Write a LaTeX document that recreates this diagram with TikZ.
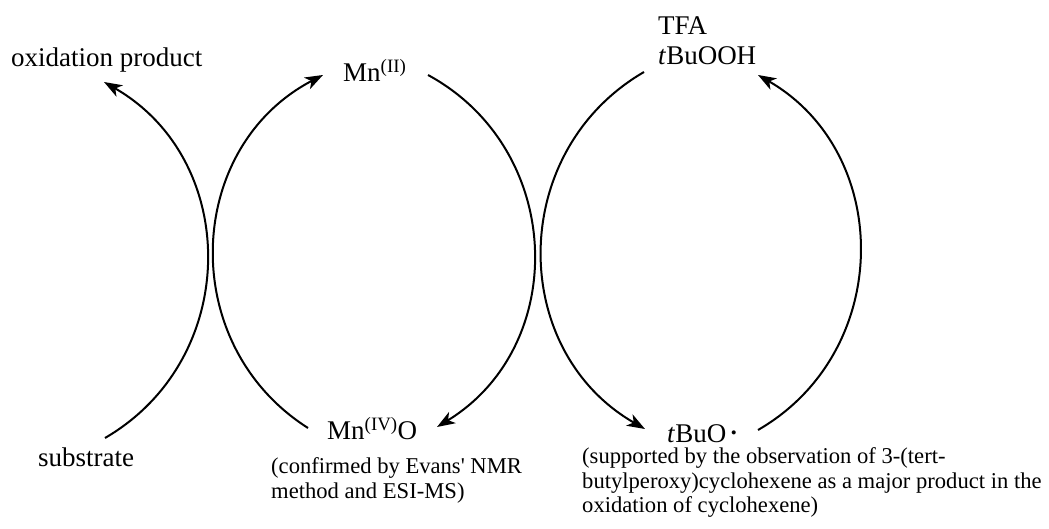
\documentclass[tikz,border=0pt]{standalone}
\usepackage{fontspec}
\setmainfont{Liberation Serif}
\usetikzlibrary{arrows.meta}
\begin{document}
\begin{tikzpicture}[x=1pt,y=1pt,
  lbl/.style={anchor=base west, inner sep=0pt, font=\fontsize{27}{30}\selectfont},
  note/.style={anchor=base west, inner sep=0pt, font=\fontsize{22.6}{24.2}\selectfont},
  cyc/.style={line width=2pt, -{Stealth[length=18pt,width=13pt,inset=5pt]}},
  bl/.style={bend left=60, looseness=1.13},
  br/.style={bend right=60, looseness=1.13}]
\useasboundingbox (0,0) rectangle (1049,529);
% labels
\node[lbl] (oxprod) at (11,462) {oxidation product};
\node[lbl] (substrate) at (38,62) {substrate};
\node[lbl] (mnII) at (343,447) {Mn\textsuperscript{(II)}};
\node[lbl] (mnIV) at (327,89) {Mn\textsuperscript{(IV)}O};
\node[lbl] (tfa) at (658,494) {\begin{tabular}[t]{@{}l@{}}TFA\\\textit{t}BuOOH\end{tabular}};
\node[lbl] (tbuo) at (667,86) {\textit{t}BuO\,{\fontsize{17}{17}\selectfont\raisebox{4pt}{•}}};
\node[note] (conf) at (271,55) {\begin{tabular}[t]{@{}l@{}}(confirmed by Evans\textquotesingle{} NMR\\method and ESI-MS)\end{tabular}};
\node[note] (supp) at (582,65) {\begin{tabular}[t]{@{}l@{}}(supported by the observation of 3-(tert-\\butylperoxy)cyclohexene as a major product in the\\oxidation of cyclohexene)\end{tabular}};
% arc end points
\coordinate (s1) at (105,91);  \coordinate (e1) at (104,447);
\coordinate (s2) at (308,101); \coordinate (e2) at (323,454);
\coordinate (s3) at (428,454); \coordinate (e3) at (437,102);
\coordinate (s4) at (644,457); \coordinate (e4) at (645,100);
\coordinate (s5) at (758,99);  \coordinate (e5) at (758,454);
% arcs
\draw[cyc] (s1) to[br] (e1);
\draw[cyc] (s2) to[bl] (e2);
\draw[cyc] (s3) to[bl] (e3);
\draw[cyc] (s4) to[br] (e4);
\draw[cyc] (s5) to[br] (e5);
\end{tikzpicture}
\end{document}
